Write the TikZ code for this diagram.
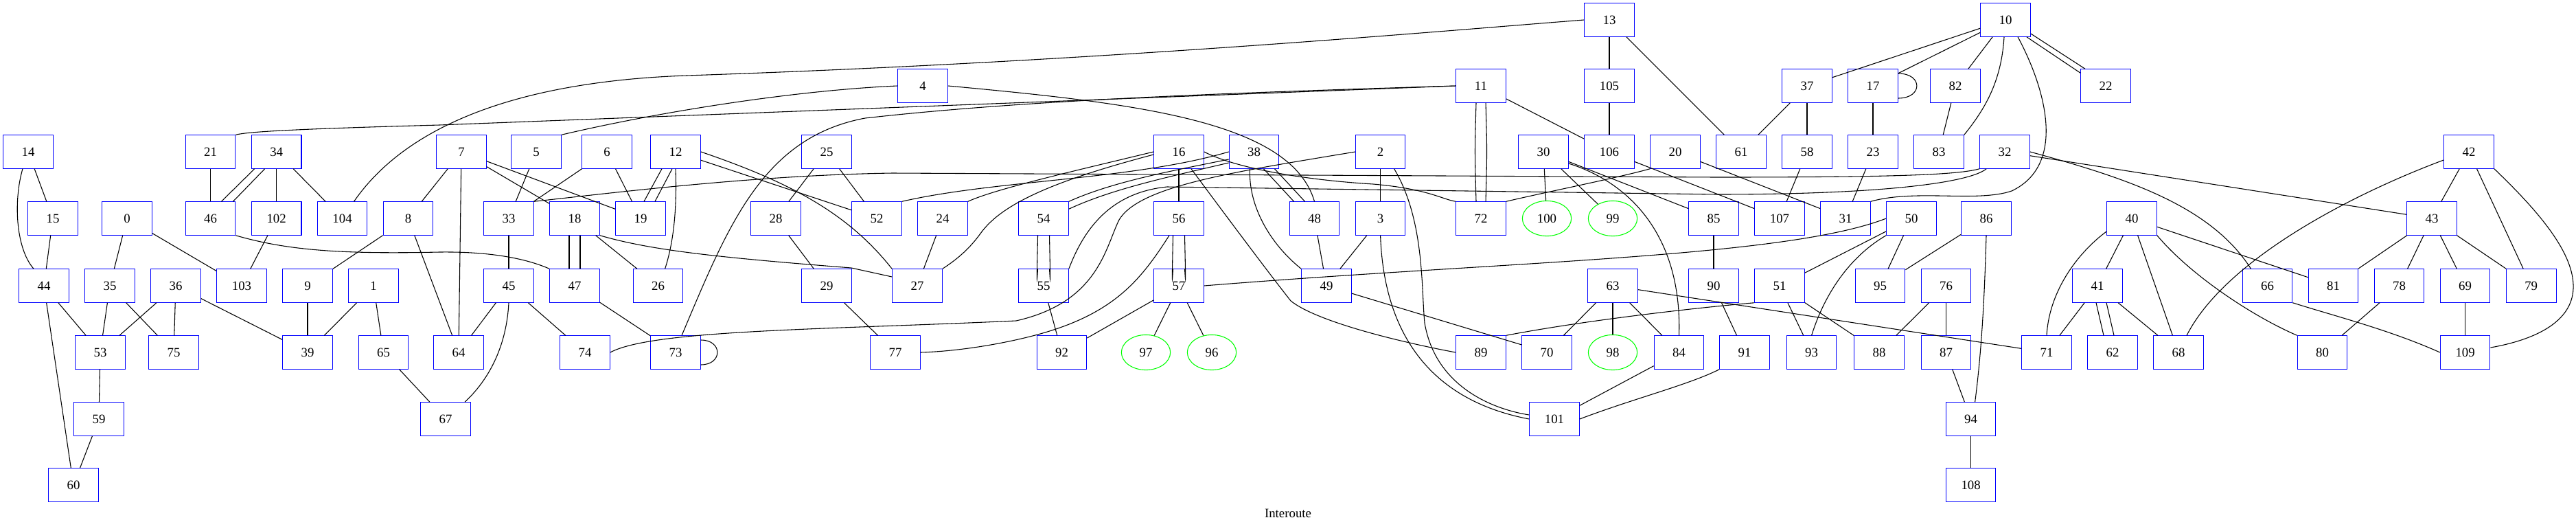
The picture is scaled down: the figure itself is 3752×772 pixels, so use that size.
\documentclass[tikz,border=0pt]{standalone}
\usepackage{fontspec}
\setmainfont{Liberation Serif}
\usetikzlibrary{shapes.geometric,calc}
\definecolor{gvblue}{RGB}{0,0,255}
\definecolor{gvgreen}{RGB}{0,255,0}
\begin{document}
\begin{tikzpicture}[x=0.7435pt,y=-0.7435pt,
  box/.style={draw=gvblue,line width=0.8pt,minimum width=54pt,minimum height=36pt,inner sep=0pt,font=\fontsize{14}{16}\selectfont},
  ell/.style={draw=gvgreen,ellipse,line width=0.8pt,minimum width=53pt,minimum height=38pt,inner sep=0pt,font=\fontsize{14}{16}\selectfont},
  ln/.style={line width=0.8pt,black}]
\useasboundingbox (0,0) rectangle (3752,772);
% row 1
\node[box] (n13) at (2344,29) {13};
\node[box] (n10) at (2921,29) {10};
% row 2
\foreach \n/\x in {4/1344,11/2157,105/2344,37/2632,17/2728,82/2848,22/3067}
  \node[box] (n\n) at (\x,125) {\n};
% row 3
\foreach \n/\x in {14/41,21/306.5,34/402.7,7/672,5/781,6/884,12/984,25/1204,16/1717,38/1826.5,2/2010.6,30/2248,106/2344,20/2440,61/2536,58/2632,23/2728,83/2824,32/2920,42/3596}
  \node[box] (n\n) at (\x,221) {\n};
% row 4
\foreach \n/\x in {15/77,0/185,46/306.5,102/402.7,104/498.6,8/594.5,33/741,18/837,19/933,28/1130,52/1277,24/1373,54/1520,56/1717,48/1914.5,3/2010.6,72/2157,85/2496,107/2592,31/2688,50/2784,86/2893,40/3105,43/3542}
  \node[box] (n\n) at (\x,318) {\n};
\node[ell] (n100) at (2253,318) {100};
\node[ell] (n99) at (2349,318) {99};
% row 5
\foreach \n/\x in {44/64,35/160,36/256,103/352,9/448,1/544,45/741,47/837,26/958.6,29/1204,27/1336,55/1520,57/1717,49/1932,63/2349,90/2496,51/2592,95/2738.6,76/2834.5,41/3055,66/3302.5,81/3398.5,78/3494.6,69/3590.6,79/3686.7}
  \node[box] (n\n) at (\x,416) {\n};
% row 6
\foreach \n/\x in {53/146,75/253,39/448,65/558.6,64/668,74/852,73/984,77/1304,92/1546.5,89/2157,70/2253,84/2445.5,91/2541,93/2638.6,88/2737,87/2834.5,71/2981,62/3077,68/3173,80/3382.5,109/3590.6}
  \node[box] (n\n) at (\x,513) {\n};
\node[ell] (n97) at (1669,513) {97};
\node[ell] (n96) at (1765,513) {96};
\node[ell] (n98) at (2349,513) {98};
% row 7
\foreach \n/\x in {59/144,67/649,101/2264,94/2870.6}
  \node[box] (n\n) at (\x,610) {\n};
% row 8
\node[box] (n60) at (107,706) {60};
\node[box] (n108) at (2870.6,706) {108};
\node[font=\fontsize{14}{16}\selectfont] (title) at (1876,747) {Interoute};

% straight edges
\foreach \a/\b in {14/15,15/44,21/46,34/102,34/104,0/35,0/103,102/103,8/9,8/64,7/8,44/53,44/60,35/53,35/75,36/53,36/75,36/39,9/39,1/39,1/65,53/59,59/60,65/67,7/64,7/18,7/19,5/33,6/33,6/19,33/45,45/64,45/74,47/73,18/26,25/28,25/52,28/29,29/77,24/27,16/56,55/92,57/92,57/97,57/96,13/105,13/61,105/106,11/106,2/3,30/100,30/99,30/85,106/107,20/31,48/49,3/49,49/70,63/70,63/98,63/84,63/71,84/101,85/90,90/91,10/37,10/17,10/82,17/23,37/61,37/58,82/83,58/107,23/31,50/51,50/95,51/93,51/88,86/95,76/88,76/87,87/94,94/108,40/41,40/68,41/71,41/68,42/43,42/79,43/81,43/78,43/69,43/79,32/43,78/80,69/109,12/52,40/81}
  \draw[ln] (n\a) -- (n\b);

% curved edges
\draw[ln] ($(n104.north)+(17,0)$) .. controls (580,200) and (720,120) .. (1000,110) .. controls (1600,90) and (2100,45) .. (n13.west);
\draw[ln] (n21.north east) .. controls (360,192) and (420,188) .. (640,182) -- (n11.west);
\draw[ln] ($(n73.north)+(9,0)$) .. controls (1060,330) and (1110,200) .. (1260,172) .. controls (1500,145) and (1800,135) .. (n11.west);
\draw[ln] (n5.north east) .. controls (950,165) and (1150,132) .. (n4.west);
\draw[ln] (n4.east) .. controls (1650,150) and (1880,175) .. (n48.north);
\draw[ln] ($(n10.south)+(-2,0)$) .. controls (2915,120) and (2890,160) .. (n83.north east);
\draw[ln] ($(n10.south)+(18,0)$) .. controls (2980,130) and (3010,240) .. (2930,278) .. controls (2880,295) and (2790,275) .. (n31.north east);
\draw[ln] ($(n2.south)+(20,0)$) .. controls (2075,320) and (2070,420) .. (2075,470) .. controls (2090,560) and (2170,595) .. ($(n101.west)+(0,-6)$);
\draw[ln] (n3.south) .. controls (2015,470) and (2070,580) .. (n101.west);
\draw[ln] ($(n30.east)+(0,17)$) .. controls (2380,268) and (2450,350) .. (n84.north);
\draw[ln] (n20.south west) .. controls (2360,258) and (2250,280) .. (n72.north east);
\draw[ln] ($(n38.south)+(-6,0)$) .. controls (1818,300) and (1850,355) .. (n49.north west);
\draw[ln] (n16.west) .. controls (1560,250) and (1450,275) .. (n24.north east);
\draw[ln] ($(n16.west)+(0,4)$) .. controls (1540,262) and (1460,295) .. (1428,340) .. controls (1410,365) and (1390,380) .. (n27.north east);
\draw[ln] (n57.east) .. controls (2200,380) and (2600,375) .. (n50.west);
\draw[ln] (n50.south west) .. controls (2700,370) and (2660,420) .. (n93.north);
\draw[ln] (n86.south) .. controls (2890,450) and (2885,520) .. ($(n94.north)+(6,0)$);
\draw[ln] ($(n40.west)+(0,19)$) .. controls (3030,365) and (2985,420) .. (n71.north);
\draw[ln] (n42.south east) .. controls (3700,310) and (3750,370) .. (3748,420) .. controls (3746,470) and (3690,495) .. ($(n109.east)+(0,-7)$);
\draw[ln] ($(n42.west)+(0,12)$) .. controls (3420,285) and (3240,380) .. ($(n68.north)+(12,0)$);
\draw[ln] (n32.east) .. controls (3100,260) and (3220,300) .. ($(n66.north)+(-24,0)$);
\draw[ln] (n40.south east) .. controls (3190,400) and (3280,460) .. (n80.north west);
\draw[ln] (n66.south east) .. controls (3400,460) and (3480,480) .. (n109.west);
\draw[ln] (n91.south west) .. controls (2460,560) and (2380,580) .. (n101.east);
\draw[ln] (n89.north east) .. controls (2300,468) and (2450,450) .. (n51.south west);
\draw[ln] ($(n14.south)+(-8,0)$) .. controls (20,290) and (22,360) .. ($(n44.north)+(-15,0)$);
\draw[ln] (n45.south) .. controls (738,500) and (715,550) .. ($(n67.north)+(28,0)$);
\draw[ln] (n46.south east) .. controls (420,365) and (500,370) .. (640,367) .. controls (720,366) and (770,378) .. (n47.north west);
\draw[ln] (n18.south east) .. controls (950,365) and (1050,375) .. (1240,390) -- ($(n27.west)+(0,-13)$);
\draw[ln] (n12.east) .. controls (1150,265) and (1235,310) .. (n27.north west);
\draw[ln] (n12.south) .. controls (986,300) and (982,350) .. ($(n26.north)+(10,0)$);
\draw[ln] ($(n16.south)+(18,0)$) .. controls (1790,320) and (1850,400) .. (1880,438) .. controls (1920,470) and (2050,500) .. (n89.west);
\draw[ln] ($(n56.south)+(-14,0)$) .. controls (1660,410) and (1620,460) .. (1500,490) .. controls (1440,505) and (1380,512) .. (n77.east);
% long edges through the middle band
\draw[ln] (n33.north east) .. controls (900,280) and (1100,255) .. (1300,252) -- (2500,258) .. controls (2750,258) and (2850,255) .. (n32.south west);
\draw[ln] (n16.east) .. controls (1800,245) and (1900,262) .. (2000,268) .. controls (2080,275) and (2100,290) .. (n72.north west);
\draw[ln] (n55.north east) .. controls (1580,330) and (1620,280) .. (1700,272) -- (2500,283) .. controls (2750,283) and (2870,265) .. ($(n32.south west)+(10,0)$);
\draw[ln] (n74.east) .. controls (950,480) and (1200,480) .. (1480,467) .. controls (1600,440) and (1610,360) .. (1630,320) .. controls (1660,270) and (1800,250) .. (n2.west);
\draw[ln] (n52.north east) .. controls (1450,262) and (1650,262) .. (n38.west);
% double edges
\draw[ln] ($(n34.south)+(-32,0)$) -- ($(n46.north)+(16,0)$);
\draw[ln] ($(n34.south)+(-17,0)$) -- ($(n46.north)+(33,0)$);
\draw[ln] ($(n12.south)+(-20,0)$) -- ($(n19.north)+(5,0)$);
\draw[ln] ($(n12.south)+(-5,0)$) -- ($(n19.north)+(21,0)$);
\draw[ln] ($(n18.south)+(-8,0)$) -- ($(n47.north)+(-8,0)$);
\draw[ln] ($(n18.south)+(8,0)$) -- ($(n47.north)+(8,0)$);
\draw[ln] ($(n11.south)+(-7,0)$) .. controls (2148,220) .. ($(n72.north)+(-7,0)$);
\draw[ln] ($(n11.south)+(7,0)$) .. controls (2166,220) .. ($(n72.north)+(7,0)$);
\draw[ln] ($(n54.south)+(-8.5,0)$) .. controls (1510,416) .. ($(n55.north)+(-8.5,0)$);
\draw[ln] ($(n54.south)+(8.5,0)$) .. controls (1530,416) .. ($(n55.north)+(8.5,0)$);
\draw[ln] ($(n56.south)+(-8.5,0)$) .. controls (1707,416) .. ($(n57.north)+(-8.5,0)$);
\draw[ln] ($(n56.south)+(8.5,0)$) .. controls (1727,416) .. ($(n57.north)+(8.5,0)$);
\draw[ln] ($(n41.south)+(-2,0)$) -- ($(n62.north)+(-13,0)$);
\draw[ln] ($(n41.south)+(13,0)$) -- ($(n62.north)+(2,0)$);
\draw[ln] ($(n10.east)+(0,20)$) -- ($(n22.north)+(-30,0)$);
\draw[ln] ($(n10.south east)+(-6,0)$) -- ($(n22.north west)+(0,6)$);
\draw[ln] ($(n38.west)+(0,11)$) .. controls (1700,250) and (1620,265) .. (n54.north east);
\draw[ln] ($(n38.west)+(0,16)$) .. controls (1700,258) and (1620,275) .. ($(n54.north east)+(0,11)$);
\draw[ln] ($(n38.south)+(14,0)$) -- ($(n48.north)+(-30,0)$);
\draw[ln] ($(n38.south)+(30,0)$) -- ($(n48.north)+(-14,0)$);
% self loops
\draw[ln] ($(n17.east)+(0,-18)$) .. controls +(36,0) and +(36,0) .. ($(n17.east)+(0,18)$);
\draw[ln] ($(n73.east)+(0,-18)$) .. controls +(32,0) and +(32,0) .. ($(n73.east)+(0,18)$);
\end{tikzpicture}
\end{document}
